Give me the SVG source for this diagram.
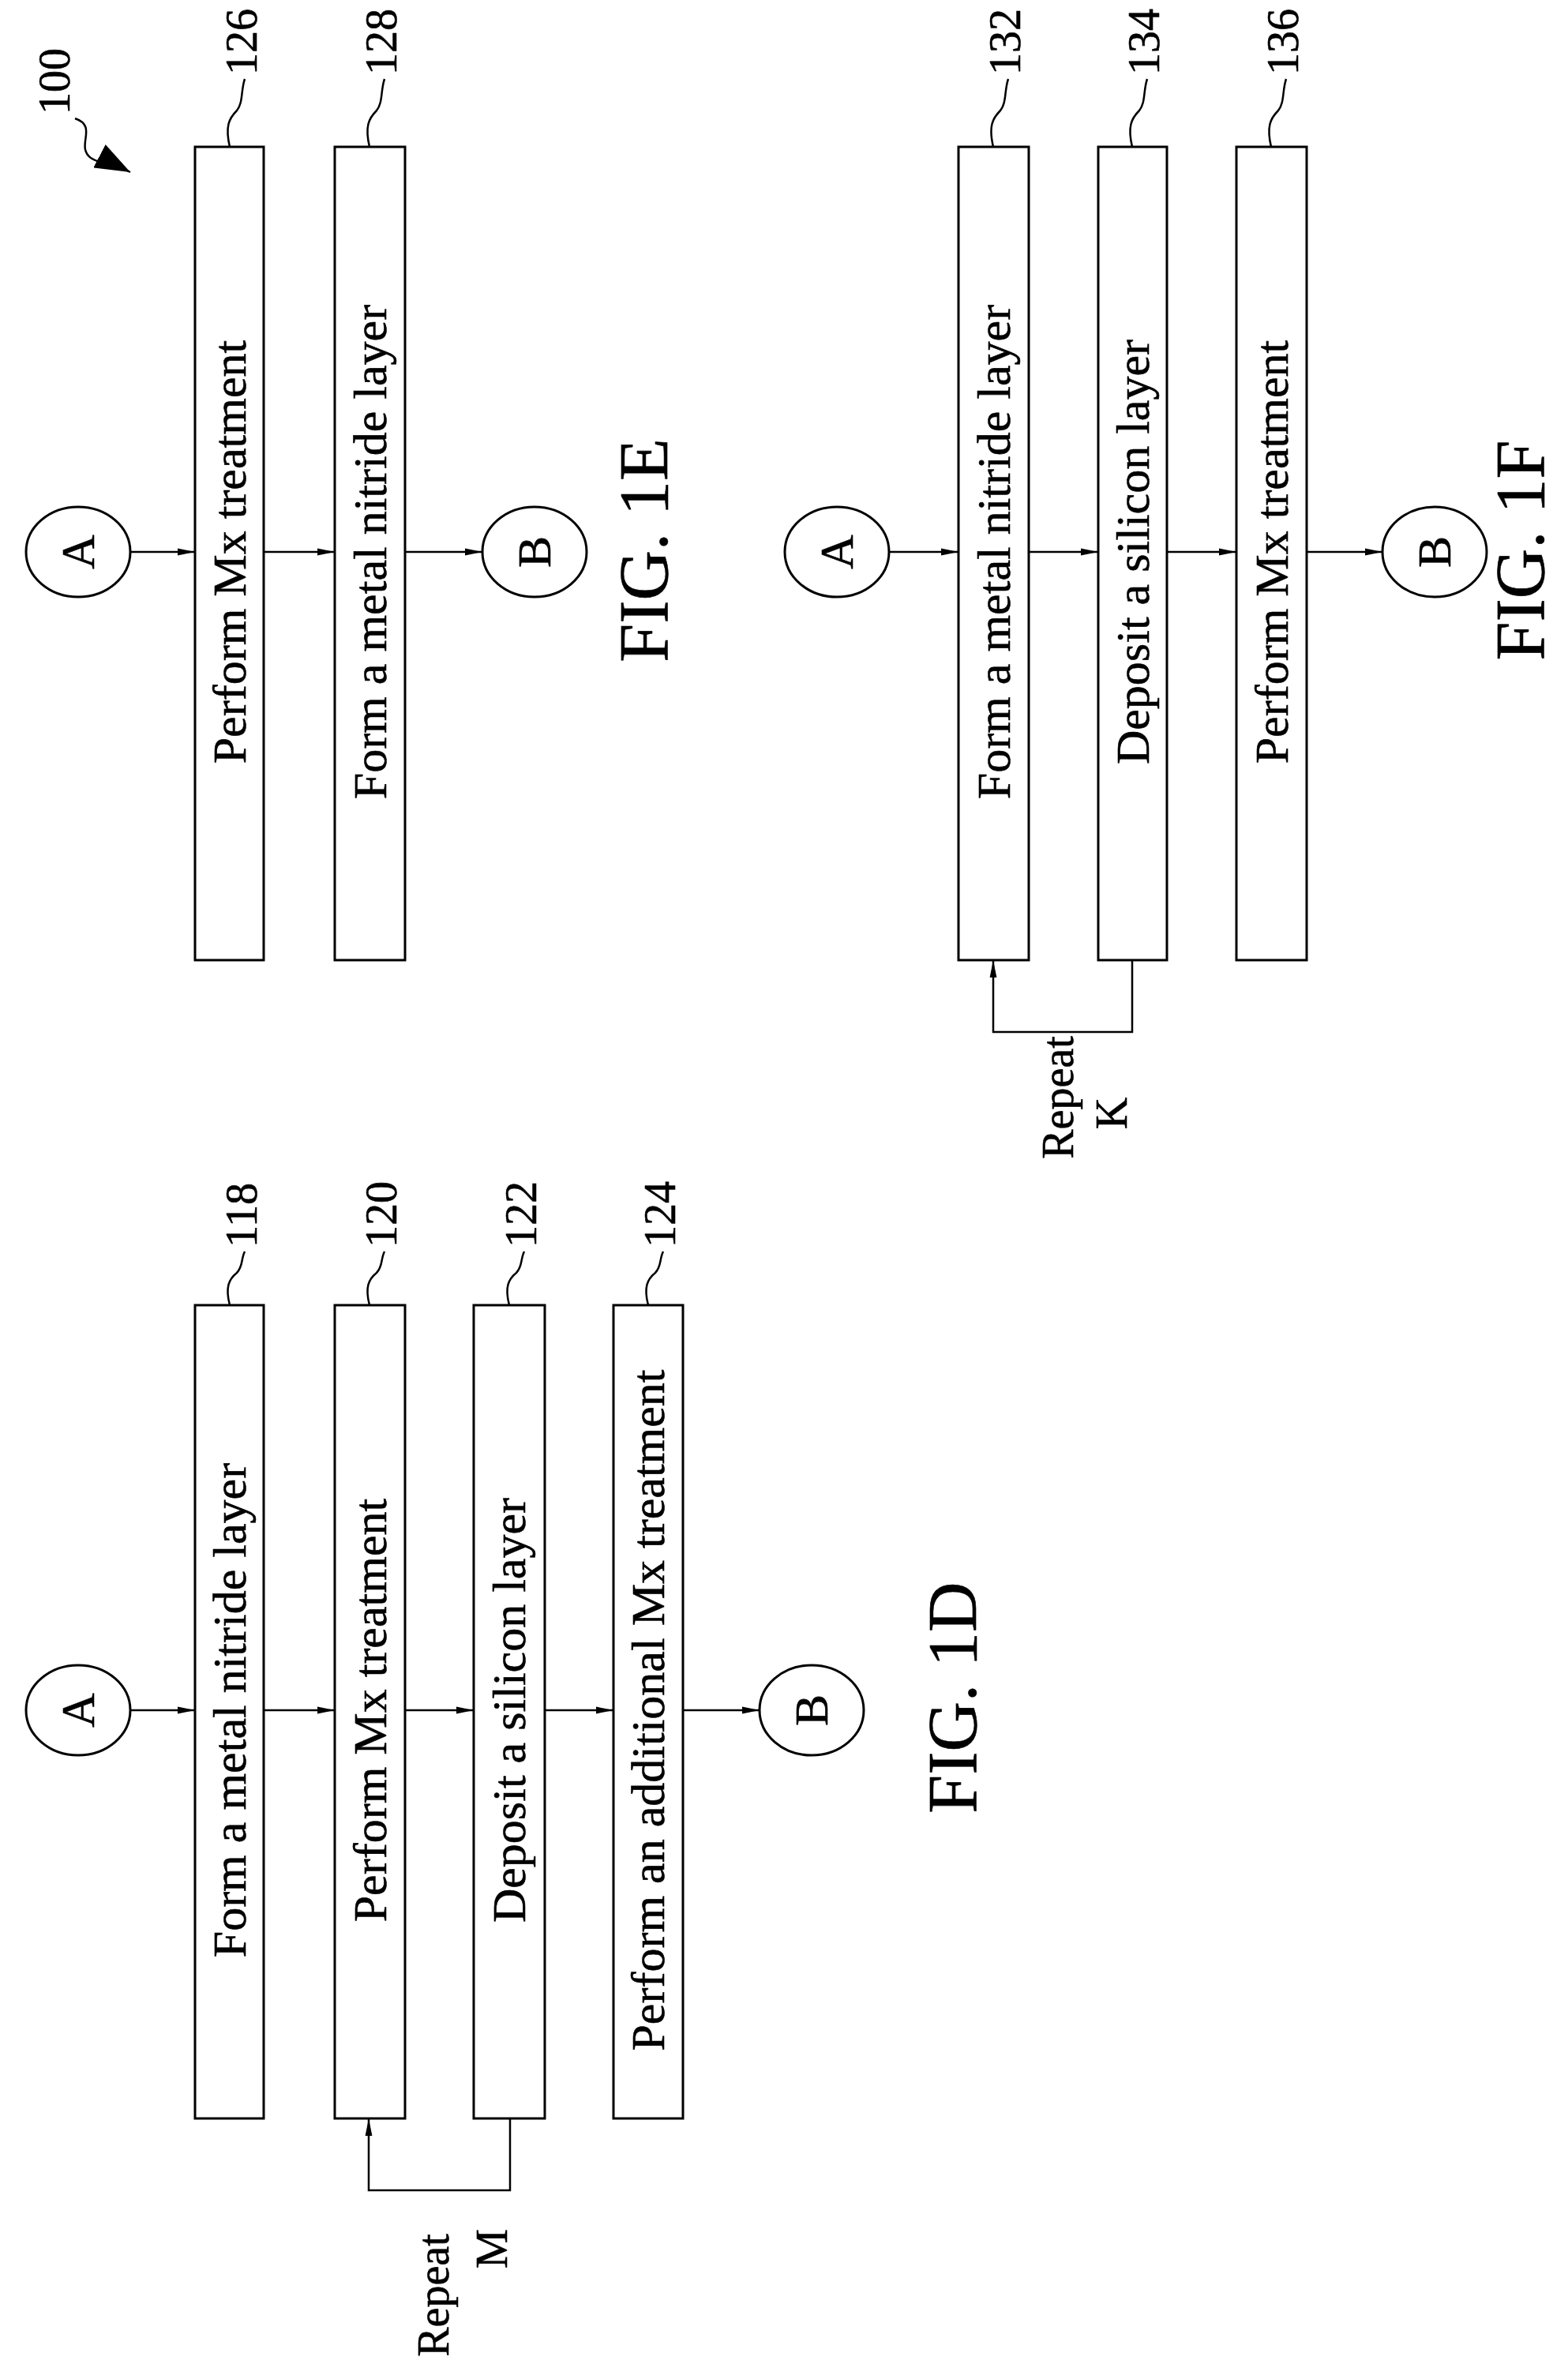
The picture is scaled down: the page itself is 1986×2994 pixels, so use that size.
<svg xmlns="http://www.w3.org/2000/svg" width="1986" height="2994" viewBox="0 0 1986 2994">
<style>
.b{fill:#fff;stroke:#000;stroke-width:3}
.c{fill:#fff;stroke:#000;stroke-width:3}
.l{fill:none;stroke:#000;stroke-width:2.5}
text{font-family:"Liberation Serif",serif;fill:#000;stroke:#000;stroke-width:0.6}
.t{font-size:60px;text-anchor:middle}
.n{font-size:56px}
.f{font-size:88px;text-anchor:middle}
</style>
<defs>
<marker id="ah" viewBox="0 0 20 10" refX="20" refY="5" markerWidth="22" markerHeight="11" markerUnits="userSpaceOnUse" orient="auto"><path d="M0,1 L20,5 L0,9 Z" fill="#000"/></marker>
<marker id="big" viewBox="0 0 40 30" refX="40" refY="15" markerWidth="44" markerHeight="33" markerUnits="userSpaceOnUse" orient="auto"><path d="M0,0 L40,15 L0,30 Z" fill="#000"/></marker>
</defs>
<g id="connectors">
<path class="l" d="M165,699 H247" marker-end="url(#ah)"/>
<path class="l" d="M334,699 H424" marker-end="url(#ah)"/>
<path class="l" d="M513,699 H611" marker-end="url(#ah)"/>
<path class="l" d="M165,2166 H247" marker-end="url(#ah)"/>
<path class="l" d="M334,2166 H424" marker-end="url(#ah)"/>
<path class="l" d="M513,2166 H600" marker-end="url(#ah)"/>
<path class="l" d="M690,2166 H777" marker-end="url(#ah)"/>
<path class="l" d="M865,2166 H962" marker-end="url(#ah)"/>
<path class="l" d="M646,2683 V2774 H467 V2683" marker-end="url(#ah)"/>
<path class="l" d="M1126,699 H1214" marker-end="url(#ah)"/>
<path class="l" d="M1303,699 H1391" marker-end="url(#ah)"/>
<path class="l" d="M1478,699 H1566" marker-end="url(#ah)"/>
<path class="l" d="M1655,699 H1751" marker-end="url(#ah)"/>
<path class="l" d="M1434,1216 V1307 H1258 V1216" marker-end="url(#ah)"/>
<path class="l" d="M95,150 C125,160 95,185 115,200 C130,210 140,205 165,218" marker-end="url(#big)"/>
</g>
<g id="label100"><text class="n" transform="translate(88,145) rotate(-90)">100</text></g>
<g id="fig1E">
<g id="A1"><ellipse class="c" cx="99" cy="699" rx="66" ry="57"/><text class="t" transform="translate(119,699) rotate(-90)">A</text></g>
<g id="n126"><rect class="b" x="247" y="186" width="87" height="1030"/><text class="t" transform="translate(311,699) rotate(-90)">Perform Mx treatment</text>
<path class="l" d="M291,186 C285,160 290,150 300,140 C308,130 305,115 310,100"/><text class="n" transform="translate(325,95) rotate(-90)">126</text></g>
<g id="n128"><rect class="b" x="424" y="186" width="89" height="1030"/><text class="t" transform="translate(489,699) rotate(-90)">Form a metal nitride layer</text>
<path class="l" d="M468,186 C462,160 467,150 477,140 C485,130 482,115 487,100"/><text class="n" transform="translate(502,95) rotate(-90)">128</text></g>
<g id="B1"><ellipse class="c" cx="677" cy="699" rx="66" ry="57"/><text class="t" transform="translate(697,699) rotate(-90)">B</text></g>
<text class="f" transform="translate(845,697) rotate(-90)">FIG. 1E</text>
</g>
<g id="fig1D">
<g id="A2"><ellipse class="c" cx="99" cy="2166" rx="66" ry="57"/><text class="t" transform="translate(119,2166) rotate(-90)">A</text></g>
<g id="n118"><rect class="b" x="247" y="1653" width="87" height="1030"/><text class="t" transform="translate(311,2166) rotate(-90)">Form a metal nitride layer</text>
<path class="l" d="M291,1653 C285,1630 290,1620 300,1612 C308,1604 305,1595 310,1585"/><text class="n" transform="translate(325,1580) rotate(-90)">118</text></g>
<g id="n120"><rect class="b" x="424" y="1653" width="89" height="1030"/><text class="t" transform="translate(489,2166) rotate(-90)">Perform Mx treatment</text>
<path class="l" d="M468,1653 C462,1630 467,1620 477,1612 C485,1604 482,1595 487,1585"/><text class="n" transform="translate(502,1580) rotate(-90)">120</text></g>
<g id="n122"><rect class="b" x="600" y="1653" width="90" height="1030"/><text class="t" transform="translate(665,2166) rotate(-90)">Deposit a silicon layer</text>
<path class="l" d="M645,1653 C639,1630 644,1620 654,1612 C662,1604 659,1595 664,1585"/><text class="n" transform="translate(679,1580) rotate(-90)">122</text></g>
<g id="n124"><rect class="b" x="777" y="1653" width="88" height="1030"/><text class="t" transform="translate(841,2166) rotate(-90)">Perform an additional Mx treatment</text>
<path class="l" d="M821,1653 C815,1630 820,1620 830,1612 C838,1604 835,1595 840,1585"/><text class="n" transform="translate(855,1580) rotate(-90)">124</text></g>
<g id="B2"><ellipse class="c" cx="1028" cy="2166" rx="66" ry="57"/><text class="t" transform="translate(1048,2166) rotate(-90)">B</text></g>
<text class="n" text-anchor="middle" transform="translate(568,2907) rotate(-90)">Repeat</text>
<text class="n" text-anchor="middle" transform="translate(642,2848) rotate(-90)">M</text>
<text class="f" transform="translate(1236,2150) rotate(-90)">FIG. 1D</text>
</g>
<g id="fig1F">
<g id="A3"><ellipse class="c" cx="1060" cy="699" rx="66" ry="57"/><text class="t" transform="translate(1080,699) rotate(-90)">A</text></g>
<g id="n132"><rect class="b" x="1214" y="186" width="89" height="1030"/><text class="t" transform="translate(1279,699) rotate(-90)">Form a metal nitride layer</text>
<path class="l" d="M1258,186 C1252,160 1257,150 1267,140 C1275,130 1272,115 1277,100"/><text class="n" transform="translate(1292,95) rotate(-90)">132</text></g>
<g id="n134"><rect class="b" x="1391" y="186" width="87" height="1030"/><text class="t" transform="translate(1455,699) rotate(-90)">Deposit a silicon layer</text>
<path class="l" d="M1434,186 C1428,160 1433,150 1443,140 C1451,130 1448,115 1453,100"/><text class="n" transform="translate(1468,95) rotate(-90)">134</text></g>
<g id="n136"><rect class="b" x="1566" y="186" width="89" height="1030"/><text class="t" transform="translate(1631,699) rotate(-90)">Perform Mx treatment</text>
<path class="l" d="M1610,186 C1604,160 1609,150 1619,140 C1627,130 1624,115 1629,100"/><text class="n" transform="translate(1644,95) rotate(-90)">136</text></g>
<g id="B3"><ellipse class="c" cx="1817" cy="699" rx="66" ry="57"/><text class="t" transform="translate(1837,699) rotate(-90)">B</text></g>
<text class="n" text-anchor="middle" transform="translate(1359,1390) rotate(-90)">Repeat</text>
<text class="n" text-anchor="middle" transform="translate(1427,1410) rotate(-90)">K</text>
<text class="f" transform="translate(1955,697) rotate(-90)">FIG. 1F</text>
</g>
</svg>
